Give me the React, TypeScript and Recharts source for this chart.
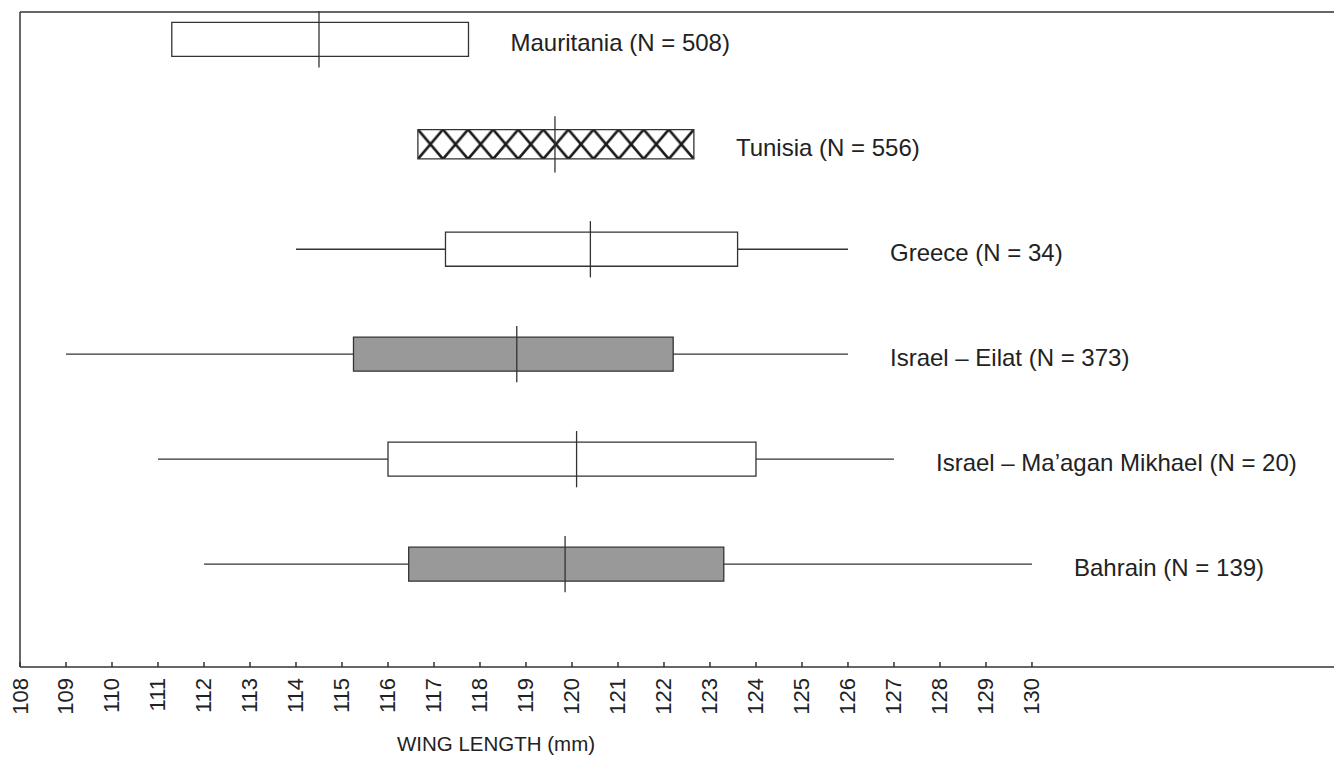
import React from "react";
import { ComposedChart, XAxis, YAxis, ReferenceArea, ReferenceLine, Scatter } from "recharts";

// wing length box plots, one row per site (top to bottom)
const sites = [
  "Mauritania (N = 508)",
  "Tunisia (N = 556)",
  "Greece (N = 34)",
  "Israel – Eilat (N = 373)",
  "Israel – Ma’agan Mikhael (N = 20)",
  "Bahrain (N = 139)",
];
const rows = [6, 5, 4, 3, 2, 1];
const lowWhisker = [null, null, 114.0, 109.0, 111.0, 112.0];
const q1 = [111.3, 116.65, 117.25, 115.25, 116.0, 116.45];
const median = [114.5, 119.63, 120.4, 118.8, 120.1, 119.85];
const q3 = [117.75, 122.65, 123.6, 122.2, 124.0, 123.3];
const highWhisker = [null, null, 126.0, 126.0, 127.0, 130.0];
const boxStyle = ["plain", "hatch", "plain", "grey", "plain", "grey"];

const xTicks = [108, 109, 110, 111, 112, 113, 114, 115, 116, 117, 118, 119, 120, 121, 122, 123, 124, 125, 126, 127, 128, 129, 130];

// plot runs past the right edge of the page, so its right side is cut off
const X_DOMAIN: [number, number] = [108, 136.74];
const Y_DOMAIN: [number, number] = [0.02, 6.26];

const FONT = "'Liberation Sans', Arial, sans-serif";
const INK = "#333";
const BOX_H = 0.162;
const HATCH_H = 0.14;
const MED_H = 0.268;

const labelData = sites.map((name, i) => ({
  x: highWhisker[i] ?? q3[i],
  y: rows[i],
  name,
}));

const AxisTick = (props: any) => {
  const { x, y, payload } = props;
  const ty = y + 11;
  return (
    <g>
      <line x1={x} x2={x} y1={y} y2={y - 5} stroke={INK} strokeWidth={1.5} />
      <text
        x={x}
        y={ty}
        transform={`rotate(-90 ${x} ${ty})`}
        textAnchor="end"
        dominantBaseline="central"
        fontSize={22}
        fontFamily={FONT}
        fill="#222"
      >
        {payload.value}
      </text>
    </g>
  );
};

const SiteLabel = (props: any) => {
  const { cx, cy, payload } = props;
  return (
    <text x={cx + 42} y={cy} dy="0.48em" fontSize={24} fontFamily={FONT} fill="#222">
      {payload.name}
    </text>
  );
};

const fillFor = (s: string) => (s === "grey" ? "#999999" : s === "hatch" ? "url(#hatch)" : "#ffffff");

export default function App() {
  return (
    <div
      style={{
        position: "absolute",
        left: 0,
        top: 0,
        width: 1334,
        height: 758,
        overflow: "hidden",
        background: "#fff",
      }}
    >
      <ComposedChart width={1342} height={758} margin={{ top: 12, right: 0, bottom: 0, left: 20 }}>
        <defs>
          <pattern
            id="hatch"
            patternUnits="objectBoundingBox"
            width={1 / 11}
            height={1}
            viewBox="0 0 10 10"
            preserveAspectRatio="none"
          >
            <rect x={0} y={0} width={10} height={10} fill="#fff" />
            <path
              d="M0,0 L10,10 M10,0 L0,10"
              stroke="#1a1a1a"
              strokeWidth={1}
              vectorEffect="non-scaling-stroke"
              fill="none"
            />
          </pattern>
        </defs>
        <XAxis
          type="number"
          dataKey="x"
          domain={X_DOMAIN}
          ticks={xTicks}
          interval={0}
          allowDataOverflow
          height={91}
          tickSize={0}
          tickMargin={0}
          tickLine={false}
          tick={<AxisTick />}
          axisLine={{ stroke: INK, strokeWidth: 1.5 }}
        />
        <YAxis
          type="number"
          dataKey="y"
          domain={Y_DOMAIN}
          allowDataOverflow
          width={0}
          tick={false}
          tickLine={false}
          axisLine={false}
        />

        {/* frame: left and top edges of the plot */}
        <ReferenceLine
          segment={[{ x: X_DOMAIN[0], y: Y_DOMAIN[0] }, { x: X_DOMAIN[0], y: Y_DOMAIN[1] }]}
          stroke={INK}
          strokeWidth={1.5}
          ifOverflow="visible"
        />
        <ReferenceLine
          segment={[{ x: X_DOMAIN[0], y: Y_DOMAIN[1] }, { x: 130, y: Y_DOMAIN[1] }]}
          stroke={INK}
          strokeWidth={1.5}
          ifOverflow="visible"
        />
        <ReferenceLine
          segment={[{ x: 130, y: Y_DOMAIN[1] }, { x: X_DOMAIN[1], y: Y_DOMAIN[1] }]}
          stroke={INK}
          strokeWidth={1.5}
          ifOverflow="visible"
        />

        {rows.map((r, i) =>
          lowWhisker[i] != null ? (
            <ReferenceLine
              key={`lw-${i}`}
              segment={[{ x: lowWhisker[i] as number, y: r }, { x: q1[i], y: r }]}
              stroke={INK}
              strokeWidth={1.3}
              ifOverflow="visible"
            />
          ) : null
        )}
        {rows.map((r, i) =>
          highWhisker[i] != null ? (
            <ReferenceLine
              key={`hw-${i}`}
              segment={[{ x: q3[i], y: r }, { x: highWhisker[i] as number, y: r }]}
              stroke={INK}
              strokeWidth={1.3}
              ifOverflow="visible"
            />
          ) : null
        )}
        {rows.map((r, i) => {
          const h = boxStyle[i] === "hatch" ? HATCH_H : BOX_H;
          return (
            <ReferenceArea
              key={`box-${i}`}
              x1={q1[i]}
              x2={q3[i]}
              y1={r - h}
              y2={r + h}
              fill={fillFor(boxStyle[i])}
              fillOpacity={1}
              stroke={INK}
              strokeWidth={1.3}
              ifOverflow="visible"
            />
          );
        })}
        {rows.map((r, i) => (
          <ReferenceLine
            key={`med-${i}`}
            segment={[{ x: median[i], y: r - MED_H }, { x: median[i], y: r + MED_H }]}
            stroke={INK}
            strokeWidth={1.3}
            ifOverflow="visible"
          />
        ))}

        <Scatter data={labelData} shape={<SiteLabel />} isAnimationActive={false} />
      </ComposedChart>
      <div
        style={{
          position: "absolute",
          left: 346,
          top: 732,
          width: 300,
          textAlign: "center",
          fontFamily: FONT,
          fontSize: 20.5,
          color: "#222",
          whiteSpace: "nowrap",
        }}
      >
        WING LENGTH (mm)
      </div>
    </div>
  );
}
